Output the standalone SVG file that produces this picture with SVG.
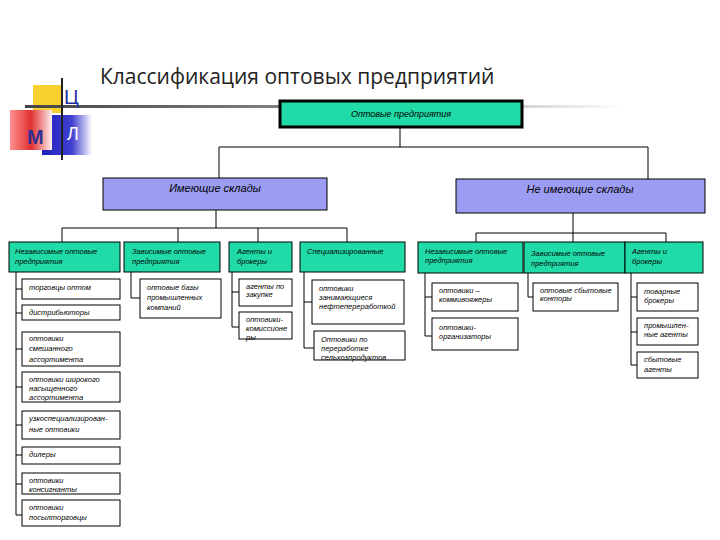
<svg xmlns="http://www.w3.org/2000/svg" width="720" height="540" viewBox="0 0 720 540">
<style>
.b{fill:#fff;stroke:#000;stroke-width:1}
.g{fill:#20dba8;stroke:#000;stroke-width:1}
.v{fill:#9c9cf2;stroke:#000;stroke-width:1}
text{font-family:"Liberation Sans",Arial,sans-serif;font-style:italic;font-size:7.5px;fill:#000}
.h{font-size:11px}
.c line,.c polyline{stroke:#000;stroke-width:1;fill:none}
</style>
<defs>
<linearGradient id="hl" x1="0" x2="1"><stop offset="0" stop-color="#444"/><stop offset="0.6" stop-color="#999"/><stop offset="1" stop-color="#fff"/></linearGradient>
<linearGradient id="rd" x1="0" x2="1"><stop offset="0" stop-color="#ff9090"/><stop offset="0.5" stop-color="#e03030"/><stop offset="1" stop-color="#fff0f0"/></linearGradient>
<linearGradient id="bl" x1="0" x2="1"><stop offset="0" stop-color="#2020c0"/><stop offset="0.6" stop-color="#4040d0"/><stop offset="1" stop-color="#fff"/></linearGradient>
</defs>
<rect width="720" height="540" fill="#fff"/>
<g id="logo">
<rect x="33" y="85" width="28" height="28" fill="#f8d030"/>
<rect x="42" y="115" width="50" height="40" fill="url(#bl)"/>
<rect x="10" y="110" width="42" height="40" fill="url(#rd)"/>
<rect x="25" y="105" width="600" height="3" fill="url(#hl)"/>
<line x1="62" y1="78" x2="62" y2="160" stroke="#222" stroke-width="2"/>
<text x="64" y="104" style="font-style:normal;font-size:20px;fill:#2030a0;font-family:'Liberation Sans',sans-serif">Ц</text>
<text x="27" y="144" style="font-style:normal;font-weight:bold;font-size:20px;fill:#303090">М</text>
<text x="67" y="140" style="font-style:normal;font-size:18px;fill:#fff">Л</text>
</g>
<text x="100" y="84" style="font-style:normal;font-size:21px;fill:#222;font-family:'Open Sans','Liberation Sans',sans-serif">Классификация оптовых предприятий</text>
<g class="c">
<polyline points="400,128 400,147"/><polyline points="219,178 219,147 648,147 648,179"/>
<line x1="216" y1="210" x2="216" y2="228"/><line x1="62" y1="228" x2="347" y2="228"/>
<line x1="62" y1="228" x2="62" y2="242"/><line x1="178" y1="228" x2="178" y2="242"/><line x1="258" y1="228" x2="258" y2="242"/><line x1="347" y1="228" x2="347" y2="242"/>
<line x1="573" y1="213" x2="573" y2="242"/><line x1="476" y1="233" x2="666" y2="233"/>
<line x1="476" y1="233" x2="476" y2="242"/><line x1="666" y1="233" x2="666" y2="242"/>
<polyline points="16,272 16,515 22,515"/>
<line x1="16" y1="289" x2="22" y2="289"/><line x1="16" y1="313" x2="22" y2="313"/><line x1="16" y1="349" x2="22" y2="349"/><line x1="16" y1="387" x2="22" y2="387"/><line x1="16" y1="425" x2="22" y2="425"/><line x1="16" y1="455" x2="22" y2="455"/><line x1="16" y1="484" x2="22" y2="484"/>
<polyline points="131,272 131,298 140,298"/>
<polyline points="232,272 232,327 239,327"/><line x1="232" y1="292" x2="239" y2="292"/>
<polyline points="304,272 304,348 314,348"/><line x1="304" y1="302" x2="312" y2="302"/>
<polyline points="425,273 425,336 432,336"/><line x1="425" y1="297" x2="432" y2="297"/>
<polyline points="528,273 528,297 533,297"/>
<polyline points="631,273 631,365 637,365"/><line x1="631" y1="297" x2="637" y2="297"/><line x1="631" y1="332" x2="637" y2="332"/>
</g>
<g id="n0"><rect x="280" y="101" width="242" height="26" class="g" stroke-width="3" style="stroke-width:3"/><text x="401" y="117" text-anchor="middle" style="font-size:9px">Оптовые предприятия</text></g>
<g id="n1"><rect x="103" y="178" width="224" height="32" class="v"/><text x="215" y="192" text-anchor="middle" class="h">Имеющие склады</text></g>
<g id="n2"><rect x="456" y="179" width="249" height="34" class="v"/><text x="580" y="193" text-anchor="middle" class="h">Не имеющие склады</text></g>
<g id="a1"><rect x="9" y="242" width="111" height="30" class="g"/><text x="15" y="254">Независимые оптовые</text><text x="15" y="264">предприятия</text></g>
<g id="a2"><rect x="124" y="242" width="96" height="30" class="g"/><text x="132" y="254">Зависимые оптовые</text><text x="132" y="264">предприятия</text></g>
<g id="a3"><rect x="229" y="242" width="63" height="30" class="g"/><text x="237" y="254">Агенты и</text><text x="237" y="264">брокеры</text></g>
<g id="a4"><rect x="300" y="242" width="105" height="30" class="g"/><text x="307" y="254">Специализированные</text></g>
<g id="a5"><rect x="418" y="242" width="105" height="31" class="g"/><text x="425" y="254">Независимые оптовые</text><text x="425" y="263">предприятия</text></g>
<g id="a6"><rect x="524" y="242" width="101" height="31" class="g"/><text x="531" y="256">Зависимые оптовые</text><text x="531" y="266">предприятия</text></g>
<g id="a7"><rect x="625" y="242" width="78" height="31" class="g"/><text x="632" y="254">Агенты и</text><text x="632" y="264">брокеры</text></g>
<g id="s1"><rect x="22" y="279" width="98" height="20" class="b"/><text x="29" y="290">торговцы оптом</text></g>
<g id="s2"><rect x="22" y="305" width="98" height="15" class="b"/><text x="29" y="315">дистрибьюторы</text></g>
<g id="s3"><rect x="22" y="332" width="98" height="34" class="b"/><text x="29" y="341">оптовики</text><text x="29" y="351">смешанного</text><text x="29" y="362">ассортимента</text></g>
<g id="s4"><rect x="22" y="372" width="98" height="30" class="b"/><text x="29" y="382">оптовики широкого</text><text x="29" y="391">насыщенного</text><text x="29" y="400">ассортимента</text></g>
<g id="s5"><rect x="22" y="411" width="98" height="28" class="b"/><text x="29" y="421">узкоспециализирован-</text><text x="29" y="432">ные оптовики</text></g>
<g id="s6"><rect x="22" y="447" width="98" height="17" class="b"/><text x="29" y="457">дилеры</text></g>
<g id="s7"><rect x="22" y="473" width="98" height="21" class="b"/><text x="29" y="483">оптовики</text><text x="29" y="492">консигнанты</text></g>
<g id="s8"><rect x="22" y="500" width="98" height="26" class="b"/><text x="29" y="510">оптовики</text><text x="29" y="520">посылторговцы</text></g>
<g id="s9"><rect x="140" y="279" width="81" height="39" class="b"/><text x="147" y="290">оптовые базы</text><text x="147" y="300">промышленных</text><text x="147" y="310">компаний</text></g>
<g id="s10"><rect x="239" y="279" width="53" height="27" class="b"/><text x="246" y="289">агенты по</text><text x="246" y="297">закупке</text></g>
<g id="s11"><rect x="239" y="312" width="53" height="27" class="b"/><text x="246" y="322">оптовики-</text><text x="246" y="331">комиссионе</text><text x="246" y="340">ры</text></g>
<g id="s12"><rect x="312" y="280" width="92" height="44" class="b"/><text x="319" y="291">оптовики</text><text x="319" y="300">занимающиеся</text><text x="319" y="309">нефтепереработкой</text></g>
<g id="s13"><rect x="314" y="331" width="91" height="29" class="b"/><text x="321" y="342">Оптовики по</text><text x="321" y="351">переработке</text><text x="321" y="360">сельхозпродуктов</text></g>
<g id="s14"><rect x="432" y="283" width="86" height="28" class="b"/><text x="439" y="293">оптовики –</text><text x="439" y="302">коммивояжеры</text></g>
<g id="s15"><rect x="432" y="318" width="86" height="32" class="b"/><text x="439" y="330">оптовики-</text><text x="439" y="339">организаторы</text></g>
<g id="s16"><rect x="533" y="283" width="85" height="28" class="b"/><text x="540" y="293">оптовые сбытовые</text><text x="540" y="301">конторы</text></g>
<g id="s17"><rect x="637" y="283" width="61" height="28" class="b"/><text x="644" y="294">товарные</text><text x="644" y="303">брокеры</text></g>
<g id="s18"><rect x="637" y="318" width="61" height="27" class="b"/><text x="644" y="328">промышлен-</text><text x="644" y="337">ные агенты</text></g>
<g id="s19"><rect x="637" y="352" width="61" height="26" class="b"/><text x="644" y="362">сбытовые</text><text x="644" y="372">агенты</text></g>
</svg>
